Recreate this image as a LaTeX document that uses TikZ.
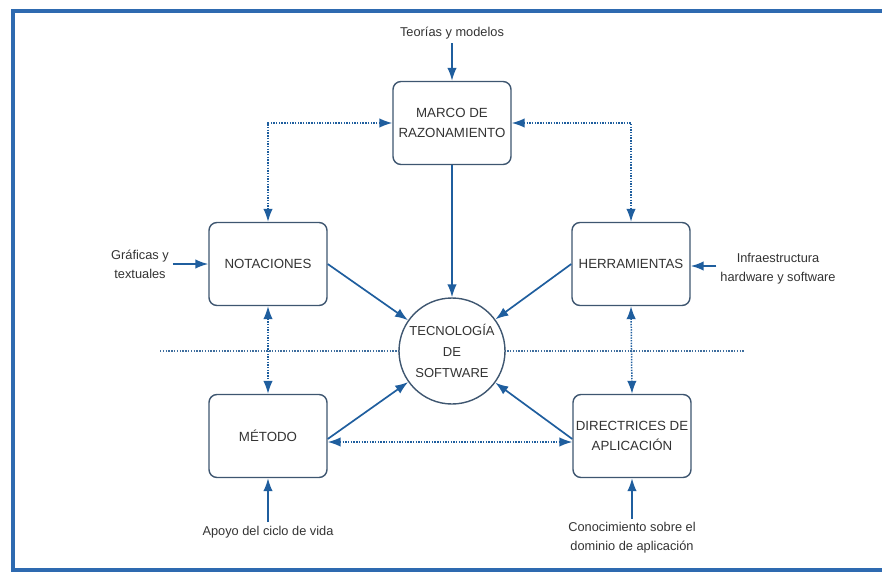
\documentclass[tikz,border=0pt]{standalone}
\usepackage{fontspec}
\setmainfont{Liberation Sans}
\usetikzlibrary{arrows.meta}
\definecolor{frameblue}{HTML}{2E6AB0}
\definecolor{arrowblue}{HTML}{1F5E9E}
\definecolor{boxline}{HTML}{3E5670}
\definecolor{sepline}{HTML}{3F6E9E}
\definecolor{txt}{HTML}{333333}

\begin{document}
\begin{tikzpicture}[x=1pt,y=-1pt,
  stepbox/.style={draw=boxline, line width=1.4pt, rounded corners=8pt, fill=white,
    minimum width=118pt, minimum height=83pt, align=center, inner sep=1pt,
    font=\fontsize{13.3}{20}\selectfont, text=txt},
  core/.style={circle, draw=boxline, line width=1.4pt, fill=white, minimum size=106pt,
    align=center, inner sep=0pt, font=\fontsize{13}{21}\selectfont, text=txt},
  lbl/.style={align=center, inner sep=0pt, outer sep=4pt,
    font=\fontsize{12.8}{19}\selectfont, text=txt},
  flow/.style={draw=arrowblue, line width=1.7pt, -{Latex[length=13pt,width=9.5pt]}},
  link/.style={draw=arrowblue, line width=1.5pt, dash pattern=on 1.4pt off 1.3pt,
    {Latex[length=13pt,width=9.5pt]}-{Latex[length=13pt,width=9.5pt]}},
  sep/.style={draw=sepline, line width=1.3pt, dash pattern=on 1.4pt off 1.4pt},
]
\useasboundingbox (0,0) rectangle (882,572);

% outer frame (open on the right)
\draw[frameblue, line width=3.5pt] (890,11) -- (13,11) -- (13,570) -- (890,570);

% horizontal separator behind the central circle
\coordinate (sepL) at (160,351);
\coordinate (sepR) at (745,351);
\draw[sep] (sepL) -- (sepR);

% boxes
\node[stepbox] (marco) at (452,123) {MARCO DE\\RAZONAMIENTO};
\node[stepbox] (nota)  at (268,264) {NOTACIONES};
\node[stepbox] (herr)  at (631,264) {HERRAMIENTAS};
\node[stepbox] (meto)  at (268,436) {MÉTODO};
\node[stepbox] (dire)  at (632,436) {DIRECTRICES DE\\APLICACIÓN};
\node[core]    (tec)   at (452,351) {TECNOLOGÍA\\DE\\SOFTWARE};

% external inputs
\node[lbl] (teo)   at (452,33)  {Teorías y modelos};
\node[lbl] (graf)  at (140,264) {Gráficas y\\textuales};
\node[lbl] (infra) at (778,269) {Infraestructura\\hardware y software};
\node[lbl] (apoyo) at (268,532) {Apoyo del ciclo de vida};
\node[lbl] (cono)  at (632,538) {Conocimiento sobre el\\dominio de aplicación};

\draw[flow] (teo) -- (marco);
\draw[flow] (graf.east) -- (graf.east -| nota.west);
\draw[flow] ([yshift=3pt]infra.west) -- ([yshift=3pt]infra.west -| herr.east);
\draw[flow] (apoyo) -- (meto);
\draw[flow] (cono) -- (dire);

% dotted mutual relations
\draw[link] (marco.west) -| (nota.north);
\draw[link] (marco.east) -| (herr.north);
\draw[link] (nota.south) -- (meto.north);
\draw[link] (herr.south) -- (dire.north);
\draw[link] ([yshift=-6pt]meto.east) -- ([yshift=-6pt]dire.west);

% contributions to the core
\draw[flow] (marco) -- (tec);
\draw[flow] (nota.east) -- (tec);
\draw[flow] (herr.west) -- (tec);
\draw[flow] ([yshift=-3pt]meto.east) -- (tec);
\draw[flow] ([yshift=-3pt]dire.west) -- (tec);
\end{tikzpicture}
\end{document}
